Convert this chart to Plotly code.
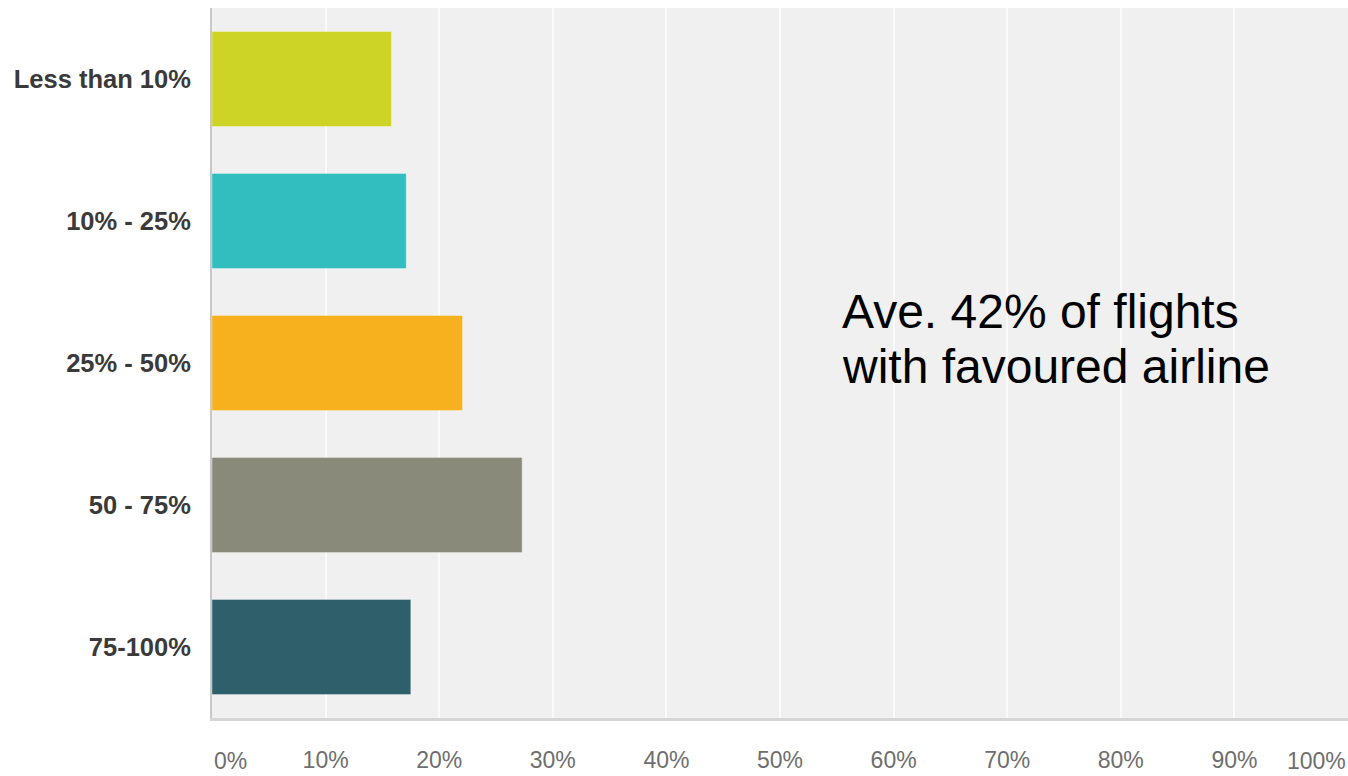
import plotly.graph_objects as go

# Survey answers: share of flights taken with the favoured airline
categories = ["Less than 10%", "10% - 25%", "25% - 50%", "50 - 75%", "75-100%"]
shares = [15.8, 17.1, 22.05, 27.3, 17.5]
bar_colors = ["#CDD425", "#32BEBF", "#F7B01E", "#898A7A", "#2F5F6B"]

tick_values = [10, 20, 30, 40, 50, 60, 70, 80, 90]
tick_labels = [f"{v}%" for v in tick_values]

note_lines = ["Ave. 42% of flights", "with favoured airline"]

W, H = 1348, 776
M_L, M_R, M_T, M_B = 212, 0, 8, 58
plot_h = H - M_T - M_B

fig = go.Figure(
    go.Bar(
        x=shares,
        y=categories,
        orientation="h",
        marker=dict(color=bar_colors, line=dict(color="rgba(255,255,255,0.35)", width=1)),
        hoverinfo="skip",
    )
)

fig.update_layout(
    width=W,
    height=H,
    margin=dict(l=M_L, r=M_R, t=M_T, b=M_B, pad=0),
    paper_bgcolor="white",
    plot_bgcolor="#EFF0EF",
    bargap=0.33,
    showlegend=False,
    font=dict(family="Arial, Liberation Sans, sans-serif"),
)

fig.update_xaxes(
    range=[0, 100],
    tickvals=tick_values,
    ticktext=tick_labels,
    tickfont=dict(size=23, color="#6E6E6E"),
    ticks="outside",
    ticklen=19,
    tickcolor="rgba(0,0,0,0)",
    showgrid=True,
    gridcolor="#FAFAFA",
    gridwidth=2,
    zeroline=False,
    showline=True,
    linecolor="#D6D6D6",
    linewidth=3,
    automargin=False,
    fixedrange=True,
)

fig.update_yaxes(
    categoryorder="array",
    categoryarray=categories[::-1],
    tickvals=categories,
    ticktext=[f"<b>{c}</b>" for c in categories],
    tickfont=dict(size=25.5, color="#3A3A3A"),
    ticks="outside",
    ticklen=14,
    tickcolor="rgba(0,0,0,0)",
    showgrid=False,
    showline=True,
    linecolor="#C8C8C8",
    linewidth=2,
    automargin=False,
    fixedrange=True,
)

# End labels of the percentage axis, kept inside the chart width
tick_y = -(761 - (M_T + plot_h)) / plot_h
for x_val, text, anchor in [(0, "0%", "left"), (100, "100%", "right")]:
    fig.add_annotation(
        x=x_val, xref="x", y=tick_y, yref="paper",
        text=text, showarrow=False, xanchor=anchor, yanchor="middle",
        font=dict(size=23, color="#6E6E6E"),
    )

# Summary note, one annotation per line
for line, y_px in zip(note_lines, [311, 366]):
    fig.add_annotation(
        x=55.3, xref="x", y=(M_T + plot_h - y_px) / plot_h, yref="paper",
        text=line, showarrow=False, xanchor="left", yanchor="middle",
        font=dict(size=48, color="#000000"),
    )

fig.write_html("out.html")
